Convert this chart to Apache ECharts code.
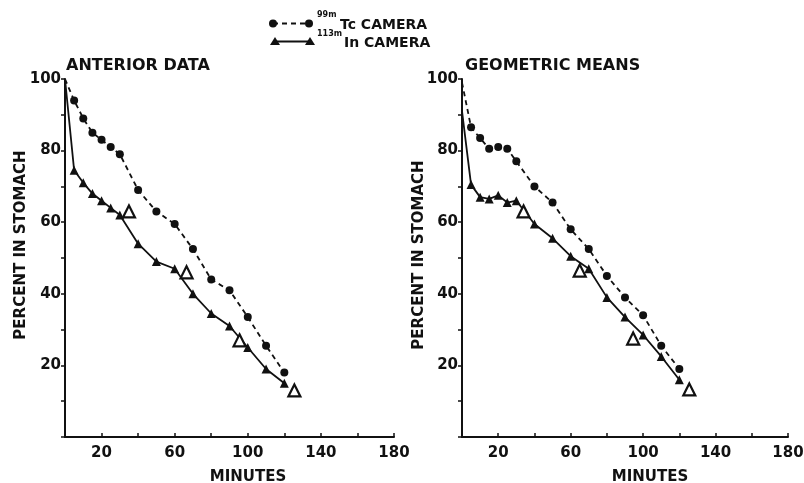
<!DOCTYPE html>
<html>
<head>
<meta charset="utf-8">
<script src="https://cdn.jsdelivr.net/npm/echarts@6/dist/echarts.min.js"></script>
<style>html,body{margin:0;padding:0;background:#fff;}#c{width:804px;height:483px;}</style>
</head>
<body>
<div id="c"></div>
<script>
// ---- data ----
const minutes = [0, 5, 10, 15, 20, 25, 30, 40, 50, 60, 70, 80, 90, 100, 110, 120];
const tcAnterior = [100, 94, 89, 85, 83, 81, 79, 69, 63, 59.5, 52.5, 44, 41, 33.5, 25.5, 18];
const inAnterior = [100, 74.5, 71, 68, 66, 64, 62, 54, 49, 47, 40, 34.5, 31, 25, 19, 15];
const openAnteriorX = [35, 66.5, 95.5, 125.5];
const openAnteriorY = [63, 46, 27, 13];
const tcGeometric = [99, 86.5, 83.5, 80.5, 81, 80.5, 77, 70, 65.5, 58, 52.5, 45, 39, 34, 25.5, 19];
const inGeometric = [91, 70.5, 67, 66.5, 67.5, 65.5, 66, 59.5, 55.5, 50.5, 47, 39, 33.5, 28.5, 22.5, 16];
const openGeometricX = [34, 65, 94.5, 125.5];
const openGeometricY = [63, 46.5, 27.5, 13.3];
const panelTitles = ['ANTERIOR DATA', 'GEOMETRIC MEANS'];
const legendLabels = [['99m', 'Tc CAMERA'], ['113m', 'In CAMERA']];
const xName = 'MINUTES';
const yName = 'PERCENT IN STOMACH';

const INK = '#111';
const FONT = 'DejaVu Sans';

function pts(xs, ys, hideFirst) {
  return xs.map((x, i) => {
    const d = { value: [x, ys[i]] };
    if (hideFirst && i === 0) d.symbol = 'none';
    return d;
  });
}

function xAxis(gi) {
  return {
    type: 'value', gridIndex: gi, min: 0, max: 180, interval: 20,
    axisLine: { lineStyle: { color: INK, width: 2 } },
    axisTick: { inside: true, length: 4, lineStyle: { color: INK, width: 1.5 } },
    splitLine: { show: false },
    axisLabel: {
      color: INK, fontFamily: FONT, fontWeight: 'bold', fontSize: 15, margin: 9,
      formatter: v => ((v - 20) % 40 === 0 ? String(v) : '')
    }
  };
}
function yAxis(gi) {
  return {
    type: 'value', gridIndex: gi, min: 0, max: 100, interval: 10,
    axisLine: { lineStyle: { color: INK, width: 2 } },
    axisTick: { inside: false, length: 4, lineStyle: { color: INK, width: 1.5 } },
    splitLine: { show: false },
    axisLabel: {
      color: INK, fontFamily: FONT, fontWeight: 'bold', fontSize: 15, margin: 4,
      formatter: v => (v > 0 && v % 20 === 0 ? String(v) : '')
    }
  };
}
function dashed(gi, ys) {
  return {
    type: 'line', xAxisIndex: gi, yAxisIndex: gi, data: pts(minutes, ys, true),
    symbol: 'circle', symbolSize: 8,
    lineStyle: { color: INK, width: 1.8, type: [5, 4] },
    itemStyle: { color: INK }
  };
}
function solid(gi, ys) {
  return {
    type: 'line', xAxisIndex: gi, yAxisIndex: gi, data: pts(minutes, ys, true),
    symbol: 'triangle', symbolSize: 9,
    lineStyle: { color: INK, width: 1.8 },
    itemStyle: { color: INK }
  };
}
function openTri(gi, xs, ys) {
  return {
    type: 'scatter', xAxisIndex: gi, yAxisIndex: gi, data: pts(xs, ys, false),
    symbol: 'triangle', symbolSize: 12, z: 5,
    itemStyle: { color: '#fff', borderColor: INK, borderWidth: 2.2, opacity: 1 }
  };
}
function txt(x, y, text, size, extra) {
  return Object.assign({
    type: 'text', x: x, y: y,
    style: Object.assign({ text: text, fill: INK, font: 'bold ' + size + 'px "' + FONT + '"',
      textAlign: 'left', textVerticalAlign: 'middle' }, extra || {})
  });
}

const chart = echarts.init(document.getElementById('c'), null, { renderer: 'canvas' });
chart.setOption({
  animation: false,
  backgroundColor: '#fff',
  grid: [
    { left: 65, top: 79, width: 329, height: 358, outerBoundsMode: 'none' },
    { left: 462, top: 79, width: 326, height: 358, outerBoundsMode: 'none' }
  ],
  xAxis: [xAxis(0), xAxis(1)],
  yAxis: [yAxis(0), yAxis(1)],
  series: [
    dashed(0, tcAnterior), solid(0, inAnterior), openTri(0, openAnteriorX, openAnteriorY),
    dashed(1, tcGeometric), solid(1, inGeometric), openTri(1, openGeometricX, openGeometricY)
  ],
  graphic: [
    txt(66, 66, panelTitles[0], 16),
    txt(465, 66, panelTitles[1], 16),
    txt(248, 477, xName, 15, { textAlign: 'center' }),
    txt(650, 477, xName, 15, { textAlign: 'center' }),
    Object.assign(txt(21.5, 245, yName, 15, { textAlign: 'center' }), { rotation: Math.PI / 2 }),
    Object.assign(txt(419.5, 255, yName, 15, { textAlign: 'center' }), { rotation: Math.PI / 2 }),
    // legend
    { type: 'line', shape: { x1: 273, y1: 23.5, x2: 309, y2: 23.5 }, style: { stroke: INK, lineWidth: 1.8, lineDash: [5, 4] } },
    { type: 'circle', shape: { cx: 273, cy: 23.5, r: 4 }, style: { fill: INK } },
    { type: 'circle', shape: { cx: 309, cy: 23.5, r: 4 }, style: { fill: INK } },
    { type: 'line', shape: { x1: 275, y1: 41.5, x2: 310, y2: 41.5 }, style: { stroke: INK, lineWidth: 1.8 } },
    { type: 'polygon', shape: { points: [[275, 37], [280, 45], [270, 45]] }, style: { fill: INK } },
    { type: 'polygon', shape: { points: [[310, 37], [315, 45], [305, 45]] }, style: { fill: INK } },
    txt(317, 15, legendLabels[0][0], 8),
    txt(340, 25, legendLabels[0][1], 14),
    txt(317, 33.5, legendLabels[1][0], 8),
    txt(344, 43.5, legendLabels[1][1], 14)
  ]
});
</script>
</body>
</html>
